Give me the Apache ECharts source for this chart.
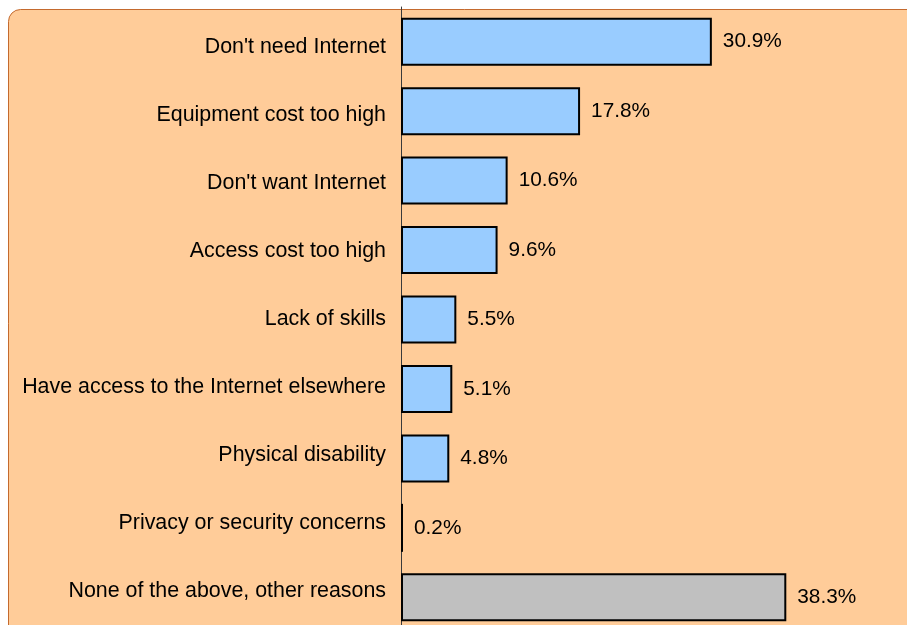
<!DOCTYPE html>
<html>
<head>
<meta charset="utf-8">
<script src="https://cdn.jsdelivr.net/npm/echarts@6/dist/echarts.min.js"></script>
<style>
	html, body { margin: 0; padding: 0; background: #fff; }
	#chart { width: 907px; height: 625px; }
</style>
</head>
<body>
<div id="chart"></div>
<script>
	// 数据
	var categories = [
		"Don't need Internet",
		'Equipment cost too high',
		"Don't want Internet",
		'Access cost too high',
		'Lack of skills',
		'Have access to the Internet elsewhere',
		'Physical disability',
		'Privacy or security concerns',
		'None of the above, other reasons'
	];
	var values = [30.9, 17.8, 10.6, 9.6, 5.5, 5.1, 4.8, 0.2, 38.3];

	var myChart = echarts.init(document.getElementById('chart'));

	// 最后一项是灰色，其余蓝色
	var barData = values.map(function(v, i) {
		return {
			value: v,
			itemStyle: { color: i === values.length - 1 ? '#C0C0C0' : '#99CCFF' }
		};
	});

	var fontFamily = 'Liberation Sans, Arial, sans-serif';

	var option = {
		animation: false,
		backgroundColor: '#ffffff',
		textStyle: { fontFamily: fontFamily },
		graphic: [{
			type: 'rect',
			z: -10,
			shape: { x: 8.5, y: 9.5, width: 1000, height: 700, r: 12 },
			style: { fill: '#FFCC99', stroke: '#C46A2E', lineWidth: 1 }
		}],
		grid: [{
			// 柱子的网格
			left: 401,
			top: 7,
			width: 503,
			height: 625,
			outerBoundsMode: 'none',
			containLabel: false
		}, {
			// 分类文字的网格（间距略小）
			left: 401,
			top: 13,
			width: 503,
			height: 612.5,
			outerBoundsMode: 'none',
			containLabel: false
		}],
		xAxis: [{
			type: 'value',
			gridIndex: 0,
			min: 0,
			max: 50,
			show: false
		}, {
			type: 'value',
			gridIndex: 1,
			min: 0,
			max: 50,
			show: false
		}],
		yAxis: [{
			type: 'category',
			gridIndex: 0,
			data: categories,
			inverse: true,
			axisLine: { show: true, lineStyle: { color: '#3a3a3a', width: 1 } },
			axisTick: { show: false },
			axisLabel: { show: false }
		}, {
			type: 'category',
			gridIndex: 1,
			data: categories,
			inverse: true,
			axisLine: { show: false },
			axisTick: { show: false },
			axisLabel: {
				color: '#000',
				fontSize: 21.4,
				margin: 15,
				fontFamily: fontFamily
			}
		}],
		series: [{
			type: 'bar',
			xAxisIndex: 0,
			yAxisIndex: 0,
			data: barData,
			barWidth: 48,
			itemStyle: { borderColor: '#000', borderWidth: 2 },
			label: {
				show: true,
				position: 'right',
				distance: 11,
				color: '#000',
				fontSize: 20.8,
				fontFamily: fontFamily,
				formatter: function(p) { return p.value.toFixed(1) + '%'; }
			}
		}]
	};

	myChart.setOption(option);
</script>
</body>
</html>
